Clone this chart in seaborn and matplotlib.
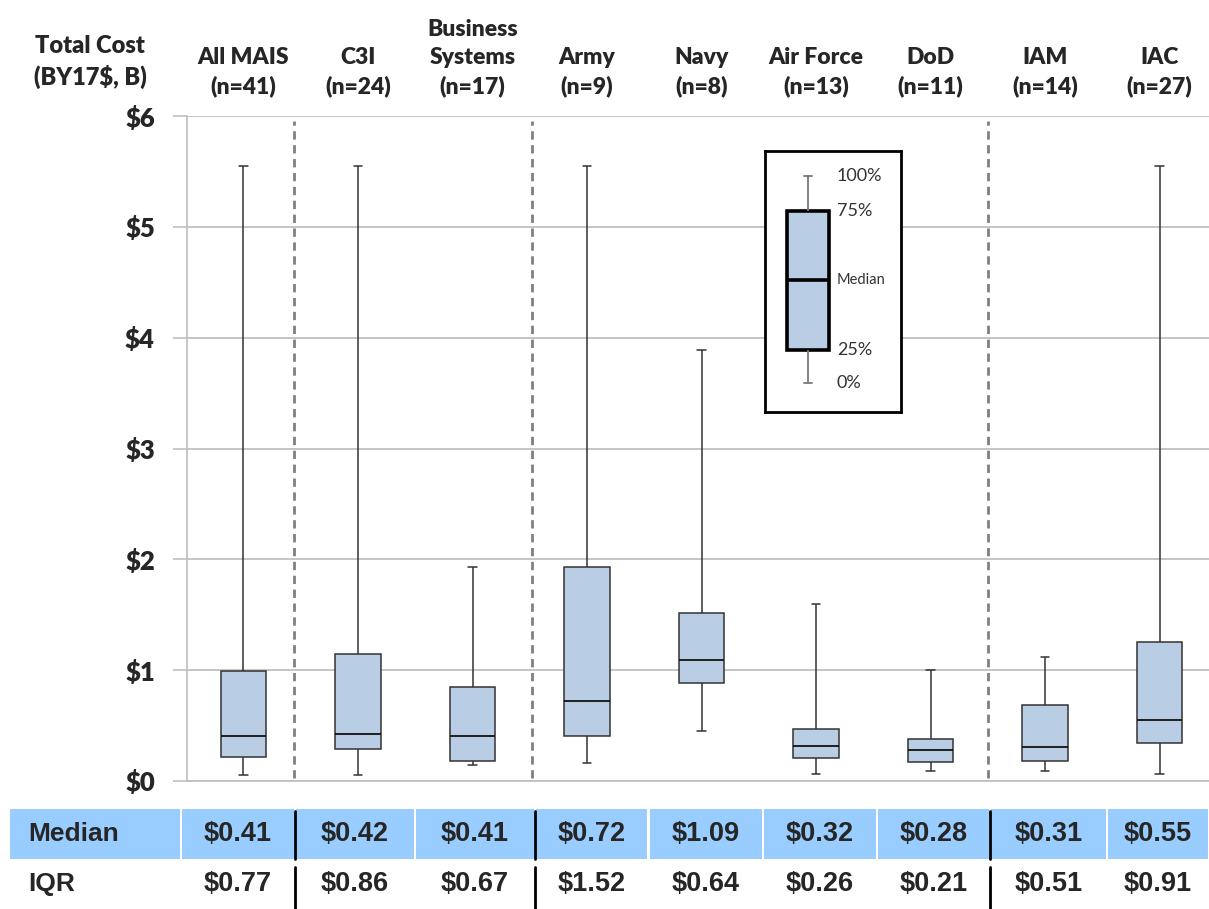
import numpy as np
import pandas as pd
import seaborn as sns
import matplotlib.pyplot as plt
from matplotlib.patches import Rectangle

# ----------- Data -----------
categories = ["All MAIS\n(n=41)", "C3I\n(n=24)", "Business\nSystems\n(n=17)",
              "Army\n(n=9)", "Navy\n(n=8)", "Air Force\n(n=13)", "DoD\n(n=11)",
              "IAM\n(n=14)", "IAC\n(n=27)"]
mins = [0.05, 0.05, 0.14, 0.16, 0.45, 0.06, 0.09, 0.09, 0.06]
q1s = [0.22, 0.29, 0.18, 0.41, 0.88, 0.21, 0.17, 0.18, 0.34]
medians = [0.41, 0.42, 0.41, 0.72, 1.09, 0.32, 0.28, 0.31, 0.55]
q3s = [0.99, 1.15, 0.85, 1.93, 1.52, 0.47, 0.38, 0.69, 1.25]
maxs = [5.55, 5.55, 1.93, 5.55, 3.89, 1.60, 1.00, 1.12, 5.55]
iqrs = [0.77, 0.86, 0.67, 1.52, 0.64, 0.26, 0.21, 0.51, 0.91]
yticks = [0, 1, 2, 3, 4, 5, 6]
ytick_labels = ["$0", "$1", "$2", "$3", "$4", "$5", "$6"]

# legend sample box (five-number summary drawn in the key)
legend_vals = [29, 62, 132, 201, 236]
legend_labels = ["0%", "25%", "Median", "75%", "100%"]

# five values per group -> quartiles land exactly on q1/median/q3
rows = []
for c, a, b, m, d, e in zip(categories, mins, q1s, medians, q3s, maxs):
    for v in (a, b, m, d, e):
        rows.append({"group": c, "cost": v})
df = pd.DataFrame(rows)

# ----------- Style -----------
sns.set_style("white")
plt.rcParams['font.family'] = ['Lato', 'DejaVu Sans']

BOX = "#B9CDE5"
GRID = "#C0C0C0"

fig = plt.figure(figsize=(12.09, 9.09), dpi=100)
ax = fig.add_axes([186.7 / 1209, 1 - 781 / 909, (1209 - 186.7) / 1209, 665 / 909])

sns.boxplot(data=df, x="group", y="cost", order=categories, ax=ax,
            color=BOX, saturation=1, width=0.4, whis=(0, 100),
            linecolor="#333333", linewidth=1.1, capwidths=0.075,
            medianprops={"color": "#111111", "linewidth": 1.3})

ax.set_xlim(-0.496, 8.432)
ax.set_ylim(0, 6)
ax.set_yticks(yticks)
ax.set_yticklabels(ytick_labels, fontsize=18.5, fontweight='heavy')
ax.tick_params(axis='y', length=10, width=1.2, color=GRID, pad=13, left=True)
ax.tick_params(axis='x', bottom=False, labelbottom=False)
ax.set_xlabel("")
ax.set_ylabel("")
ax.yaxis.grid(True, color=GRID, linewidth=1.3)
ax.set_axisbelow(True)
for s in ["top", "right"]:
    ax.spines[s].set_visible(False)
for s in ["left", "bottom"]:
    ax.spines[s].set_color(GRID)
    ax.spines[s].set_linewidth(1.3)

# group separators
for xs in [0.44, 2.52, 6.5]:
    ax.axvline(xs, ymin=0.005, ymax=0.993, color="#808080", linewidth=2,
               linestyle=(0, (3, 2)), zorder=1)

# column headers
for i, c in enumerate(categories):
    ax.text(i, 1.0286, c, transform=ax.get_xaxis_transform(), ha='center',
            va='bottom', fontsize=16.5, fontweight='heavy', linespacing=1.4,
            multialignment='center')

fig.text(90 / 1209, 1 - 62 / 909, "Total Cost\n(BY17$, B)", ha='center',
         va='center', fontsize=17, fontweight='heavy', linespacing=1.4,
         multialignment='center')

# ----------- Key box -----------
axl = fig.add_axes([765 / 1209, 1 - 411.7 / 909, 136 / 1209, 260.7 / 909])
axl.set_facecolor("white")
sns.boxplot(y=legend_vals, ax=axl, color=BOX, saturation=1, width=0.8,
            whis=(0, 100), linecolor="#777777", linewidth=1.3, capwidths=0.15,
            boxprops={"edgecolor": "black", "linewidth": 2.6},
            medianprops={"color": "black", "linewidth": 2.6})
axl.set_xlim(-0.807, 1.746)
axl.set_ylim(0, 260.7)
axl.set_xticks([])
axl.set_yticks([])
axl.set_ylabel("")
for s in axl.spines.values():
    s.set_visible(True)
    s.set_color("black")
    s.set_linewidth(2)
for v, lab in zip(legend_vals, legend_labels):
    axl.text(0.54, v, lab, ha='left', va='center', color="#333333",
             fontsize=10.5 if lab == "Median" else 13)

# ----------- Table below -----------
axt = fig.add_axes([0, 0, 1, 100 / 909])
axt.set_xlim(-2.1266, 8.432)
axt.set_ylim(0, 2)
axt.axis("off")

bounds = [-0.546, 0.447, 1.498, 2.546, 3.537, 4.537, 5.533, 6.52, 7.54, 8.432]
gap = 0.009
axt.add_patch(Rectangle((-2.039, 1.0), -0.546 - gap + 2.039, 1.0,
                        facecolor="#99CCFF", edgecolor="none"))
for i in range(len(categories)):
    x0, x1 = bounds[i] + gap, bounds[i + 1] - gap
    axt.add_patch(Rectangle((x0, 1.0), x1 - x0, 1.0,
                            facecolor="#99CCFF", edgecolor="none"))
    cx = (bounds[i] + bounds[i + 1]) / 2
    axt.text(cx, 1.5, f"${medians[i]:.2f}", ha='center', va='center',
             fontsize=19.5, fontweight='bold', family='Liberation Sans')
    axt.text(cx, 0.5, f"${iqrs[i]:.2f}", ha='center', va='center',
             fontsize=19.5, fontweight='bold', family='Liberation Sans')
for bi in [1, 3, 7]:
    axt.plot([bounds[bi]] * 2, [1.0, 1.96], color="black", linewidth=2)
    axt.plot([bounds[bi]] * 2, [0.0, 0.84], color="black", linewidth=2)

axt.text(-1.882, 1.5, "Median", ha='left', va='center', fontsize=19,
         fontweight='bold', family='Liberation Sans')
axt.text(-1.882, 0.5, "IQR", ha='left', va='center', fontsize=19,
         fontweight='bold', family='Liberation Sans')

fig.savefig("out.png", dpi=100)
